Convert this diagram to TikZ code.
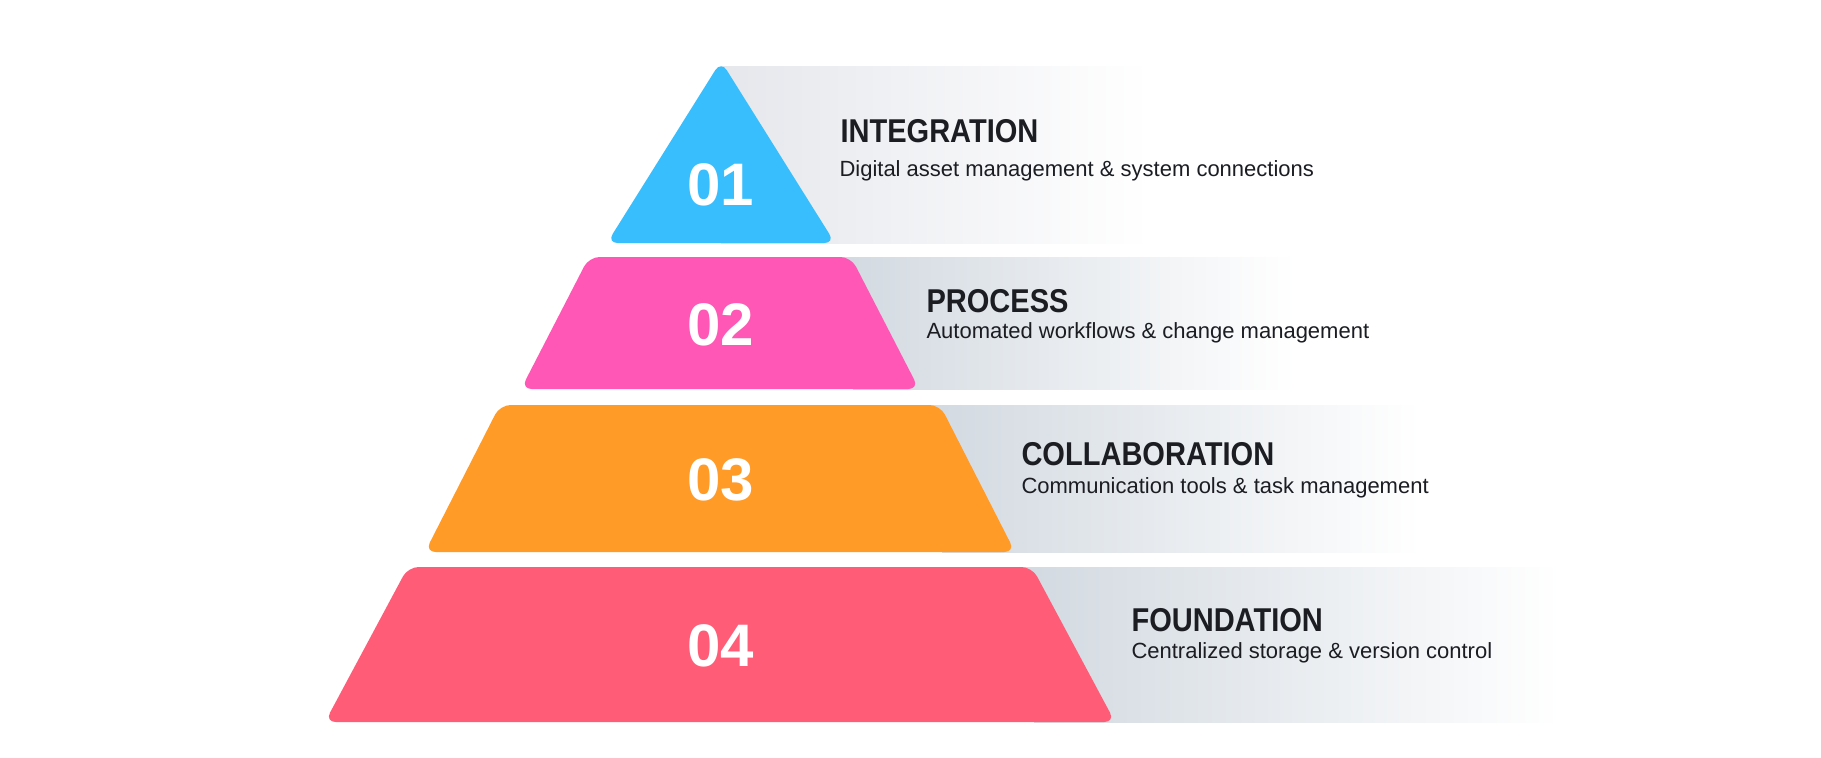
\documentclass[tikz,border=0pt]{standalone}
\usepackage{fontspec}
\setmainfont{Liberation Sans}
\newfontfamily\headfont[FakeStretch=0.88]{Liberation Sans}

\definecolor{tierblue}{RGB}{56,190,252}
\definecolor{tierpink}{RGB}{255,87,181}
\definecolor{tierorange}{RGB}{255,155,38}
\definecolor{tierred}{RGB}{255,93,119}
\definecolor{bandgray}{RGB}{211,218,225}
\definecolor{bandlight}{RGB}{229,231,236}
\definecolor{inkdark}{RGB}{27,29,35}

\tikzset{every picture/.style={line width=0.75pt},
  tier/.style={rounded corners=8pt},
  tiernum/.style={text=white,inner sep=0pt,font=\fontsize{45}{54}\selectfont\bfseries},
  tiertitle/.style={anchor=base west,inner sep=0pt,text=inkdark,font=\headfont\fontsize{24.75}{30}\selectfont\bfseries},
  tiersub/.style={anchor=base west,inner sep=0pt,text=inkdark,font=\fontsize{16.5}{20}\selectfont}}

\begin{document}
\begin{tikzpicture}[x=0.75pt,y=0.75pt,yscale=-1,xscale=1]
\useasboundingbox (0,0) rectangle (1821,757);
\fill [white] (0,0) rectangle (1821,757);

%Shape: Rectangle [band 1]
\shade [left color=bandlight,right color=white] (721,66) rectangle (1150,243);
%Shape: Rectangle [band 2]
\fill [bandgray] (720,257) rectangle (853,389);
\shade [left color=bandgray,right color=white] (853,257) rectangle (1295,389);
%Shape: Rectangle [band 3]
\fill [bandgray] (720,405) rectangle (942,552);
\shade [left color=bandgray,right color=white] (942,405) rectangle (1420,552);
%Shape: Rectangle [band 4]
\fill [bandgray] (720,567) rectangle (1034,722);
\shade [left color=bandgray,right color=white] (1034,567) rectangle (1560,722);

%Shape: Triangle [tier 1]
\fill [tier,tierblue] (607,243) -- (721,61) -- (835,243) -- cycle ;
%Shape: Trapezoid [tier 2]
\fill [tier,tierpink] (521,389) -- (589,257) -- (851,257) -- (919,389) -- cycle ;
%Shape: Trapezoid [tier 3]
\fill [tier,tierorange] (425,552) -- (500,405) -- (940,405) -- (1015,552) -- cycle ;
%Shape: Trapezoid [tier 4]
\fill [tier,tierred] (325,722) -- (408,567) -- (1032,567) -- (1115,722) -- cycle ;

% Text Node
\draw (721,185) node [tiernum] (num1) {01};
% Text Node
\draw (721,325) node [tiernum] (num2) {02};
% Text Node
\draw (721,480) node [tiernum] (num3) {03};
% Text Node
\draw (721,646) node [tiernum] (num4) {04};

% Text Node
\draw (840,142) node [tiertitle] (title1) {INTEGRATION};
% Text Node
\draw (839,176) node [tiersub] (sub1) {Digital asset management \& system connections};
% Text Node
\draw (926,312) node [tiertitle] (title2) {PROCESS};
% Text Node
\draw (926,338) node [tiersub] (sub2) {Automated workflows \& change management};
% Text Node
\draw (1021,465) node [tiertitle] (title3) {COLLABORATION};
% Text Node
\draw (1021,493) node [tiersub] (sub3) {Communication tools \& task management};
% Text Node
\draw (1131,631) node [tiertitle] (title4) {FOUNDATION};
% Text Node
\draw (1131,658) node [tiersub] (sub4) {Centralized storage \& version control};
\end{tikzpicture}
\end{document}
